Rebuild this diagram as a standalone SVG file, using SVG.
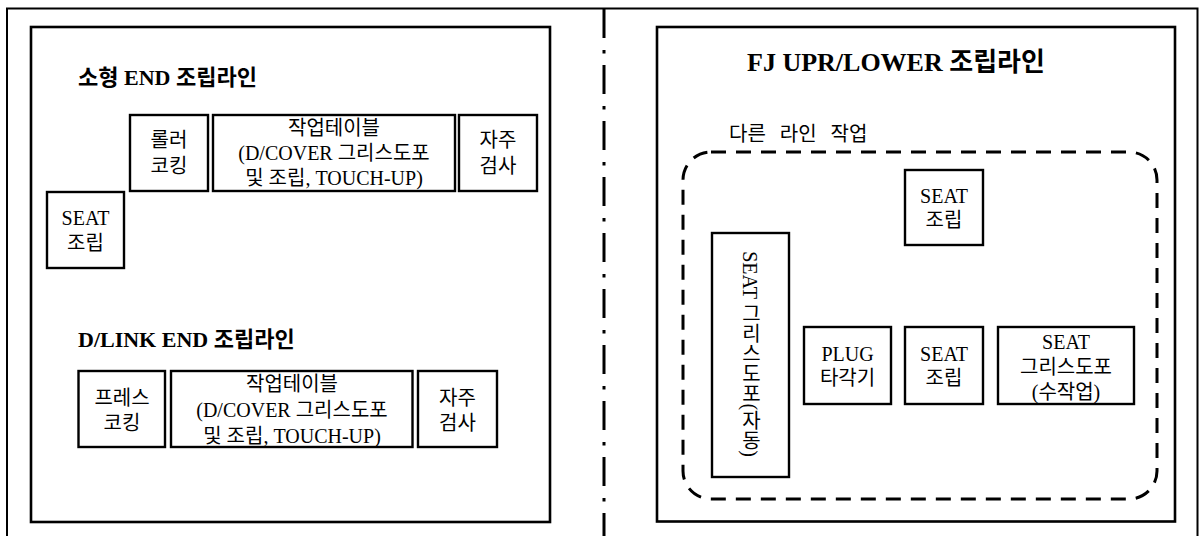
<svg xmlns="http://www.w3.org/2000/svg" width="1202" height="536" viewBox="0 0 1202 536">
<style>
.frame{fill:none;stroke:#000;stroke-width:2}
.panel{fill:none;stroke:#000;stroke-width:2.6}
.box{fill:#fff;stroke:#000;stroke-width:2.4}
.t{font-family:"Liberation Serif","Noto Sans CJK KR",serif;font-size:20px;fill:#000}
.c{text-anchor:middle;dominant-baseline:central}
.title{font-family:"Liberation Serif","Noto Sans CJK KR",serif;font-weight:bold;fill:#000}
</style>
<rect width="1202" height="536" fill="#fff"/>
<g id="frame">
<path class="frame" d="M7,540 V8.5 H1197.5 V540"/>
</g>
<g id="connectors">
<line x1="604" y1="9" x2="604" y2="536" stroke="#000" stroke-width="3" stroke-dasharray="29 12 3.5 11.5"/>
</g>
<g id="left-panel">
<rect class="panel" x="31" y="27" width="519" height="495"/>
<text class="title" x="78" y="85" font-size="22">소형 END 조립라인</text>
<text class="title" x="78" y="347" font-size="22">D/LINK END 조립라인</text>
</g>
<g id="roller">
<rect class="box" x="130" y="115" width="78" height="76"/>
<text class="t c" x="169"><tspan x="169" y="140">롤러</tspan><tspan x="169" y="166">코킹</tspan></text>
</g>
<g id="table1">
<rect class="box" x="213" y="115" width="242" height="76"/>
<text class="t c" x="334"><tspan x="334" y="128">작업테이블</tspan><tspan x="334" y="153">(D/COVER 그리스도포</tspan><tspan x="334" y="178">및 조립, TOUCH-UP)</tspan></text>
</g>
<g id="inspect1">
<rect class="box" x="459" y="115" width="78" height="76"/>
<text class="t c" x="498"><tspan x="498" y="140">자주</tspan><tspan x="498" y="166">검사</tspan></text>
</g>
<g id="seat1">
<rect class="box" x="47" y="192" width="77" height="76"/>
<text class="t c" x="85.5"><tspan x="85.5" y="218">SEAT</tspan><tspan x="85.5" y="243">조립</tspan></text>
</g>
<g id="press">
<rect class="box" x="78.5" y="371" width="86.5" height="76"/>
<text class="t c" x="122"><tspan x="122" y="398">프레스</tspan><tspan x="122" y="423">코킹</tspan></text>
</g>
<g id="table2">
<rect class="box" x="171" y="371" width="241.5" height="76"/>
<text class="t c" x="292"><tspan x="292" y="384">작업테이블</tspan><tspan x="292" y="410">(D/COVER 그리스도포</tspan><tspan x="292" y="436">및 조립, TOUCH-UP)</tspan></text>
</g>
<g id="inspect2">
<rect class="box" x="418" y="371" width="79" height="76"/>
<text class="t c" x="457.5"><tspan x="457.5" y="398">자주</tspan><tspan x="457.5" y="423">검사</tspan></text>
</g>
<g id="right-panel">
<rect class="panel" x="657" y="27" width="518" height="494.5"/>
<text class="title" x="747" y="71" font-size="26">FJ UPR/LOWER 조립라인</text>
<text class="t" x="729" y="141" font-size="21" word-spacing="9">다른 라인 작업</text>
</g>
<g id="other-line">
<rect x="683" y="152" width="474" height="347" rx="28" ry="28" fill="none" stroke="#000" stroke-width="3" stroke-dasharray="15 10"/>
</g>
<g id="seat-top">
<rect class="box" x="905" y="170" width="78" height="75"/>
<text class="t c" x="944"><tspan x="944" y="196">SEAT</tspan><tspan x="944" y="220">조립</tspan></text>
</g>
<g id="grease-auto">
<rect class="box" x="712" y="233" width="77" height="244"/>
<text class="t" x="750" y="354" writing-mode="vertical-rl" text-anchor="middle">SEAT 그리스도포(자동)</text>
</g>
<g id="plug">
<rect class="box" x="804" y="327" width="87" height="77"/>
<text class="t c" x="847.5"><tspan x="847.5" y="354">PLUG</tspan><tspan x="847.5" y="378">타각기</tspan></text>
</g>
<g id="seat-mid">
<rect class="box" x="905" y="327" width="78" height="77"/>
<text class="t c" x="944"><tspan x="944" y="354">SEAT</tspan><tspan x="944" y="378">조립</tspan></text>
</g>
<g id="grease-manual">
<rect class="box" x="998" y="327" width="136" height="77"/>
<text class="t c" x="1066"><tspan x="1066" y="342">SEAT</tspan><tspan x="1066" y="367">그리스도포</tspan><tspan x="1066" y="392">(수작업)</tspan></text>
</g>
</svg>
